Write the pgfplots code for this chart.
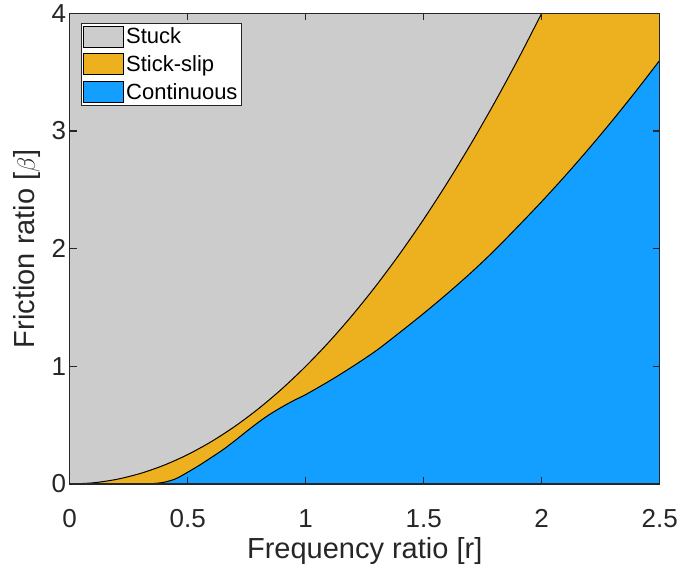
\documentclass[border=0pt]{standalone}
\usepackage{fontspec}
\setmainfont{Liberation Sans}
\usepackage{pgfplots}
\usepackage{pgfplotstable}
\pgfplotsset{compat=1.18}
\definecolor{stuckgray}{RGB}{204,204,204}
\definecolor{slipgold}{RGB}{237,177,32}
\definecolor{contblue}{RGB}{18,159,255}
\definecolor{axgray}{RGB}{38,38,38}

% boundary between stuck and stick-slip
\pgfplotstableread{
r beta
0.00 0.0000
0.10 0.0100
0.20 0.0400
0.30 0.0900
0.40 0.1600
0.50 0.2500
0.60 0.3600
0.70 0.4900
0.80 0.6400
0.90 0.8100
1.00 1.0000
1.10 1.2100
1.20 1.4400
1.30 1.6900
1.40 1.9600
1.50 2.2500
1.60 2.5600
1.70 2.8900
1.80 3.2400
1.90 3.6100
2.00 4.0000
}\upperdata

% same boundary, closed along the top edge for the stick-slip fill
\pgfplotstableread{
r beta
0.00 0.0000
0.10 0.0100
0.20 0.0400
0.30 0.0900
0.40 0.1600
0.50 0.2500
0.60 0.3600
0.70 0.4900
0.80 0.6400
0.90 0.8100
1.00 1.0000
1.10 1.2100
1.20 1.4400
1.30 1.6900
1.40 1.9600
1.50 2.2500
1.60 2.5600
1.70 2.8900
1.80 3.2400
1.90 3.6100
2.00 4.0000
2.50 4.0000
}\slipdata

% boundary between stick-slip and continuous
\pgfplotstableread{
r beta
0.30 0.000
0.35 0.003
0.40 0.015
0.45 0.045
0.50 0.100
0.55 0.160
0.60 0.225
0.65 0.292
0.70 0.368
0.75 0.448
0.80 0.525
0.85 0.595
0.90 0.655
0.95 0.710
1.00 0.760
1.10 0.875
1.20 1.000
1.30 1.135
1.40 1.290
1.50 1.450
1.60 1.618
1.70 1.795
1.80 1.985
1.90 2.190
2.00 2.400
2.10 2.620
2.20 2.850
2.30 3.090
2.40 3.340
2.50 3.600
}\lowerdata

\begin{document}
\begin{tikzpicture}
\begin{axis}[
  at={(0,0)}, anchor=south west,
  scale only axis, width=590pt, height=470.7pt,
  xmin=0, xmax=2.5, ymin=0, ymax=4,
  xtick={0,0.5,1,1.5,2,2.5},
  ytick={0,1,2,3,4},
  tick align=inside, major tick length=7pt,
  axis on top,
  axis line style={axgray, line width=1.3pt},
  every tick/.style={axgray, line width=1.3pt},
  axis background/.style={fill=stuckgray},
  tick label style={font=\fontsize{26}{30}\selectfont, text=axgray},
  xticklabel style={yshift=-22pt},
  label style={font=\fontsize{29}{34}\selectfont, text=axgray},
  xlabel style={yshift=-3pt},
  ylabel style={yshift=4pt},
  /pgf/number format/assume math mode=true,
  xlabel={Frequency ratio [r]},
  ylabel={Friction ratio [$\beta$]},
  legend style={at={(rel axis cs:0.019,0.979)}, anchor=north west,
    font=\fontsize{22}{26}\selectfont, draw=axgray, line width=1pt,
    fill=white, inner sep=2pt, row sep=6pt},
  legend cell align=left,
  legend image code/.code={\draw[#1, line width=0.8pt] (0pt,-10.5pt) rectangle (40pt,10.5pt);},
]
\addlegendimage{fill=stuckgray, draw=black}
\addlegendentry{Stuck}
\addlegendimage{fill=slipgold, draw=black}
\addlegendentry{Stick-slip}
\addlegendimage{fill=contblue, draw=black}
\addlegendentry{Continuous}

\addplot[forget plot, draw=none, fill=slipgold] table[x=r, y=beta] {\slipdata} \closedcycle;
\addplot[forget plot, fill=contblue, draw=black, line width=1pt, smooth] table[x=r, y=beta] {\lowerdata} \closedcycle;
\addplot[forget plot, black, line width=1pt, smooth] table[x=r, y=beta] {\upperdata};
\end{axis}
\pgfresetboundingbox
\path (-69.7pt,-84pt) rectangle (608.3pt,484pt);
\end{tikzpicture}
\end{document}
